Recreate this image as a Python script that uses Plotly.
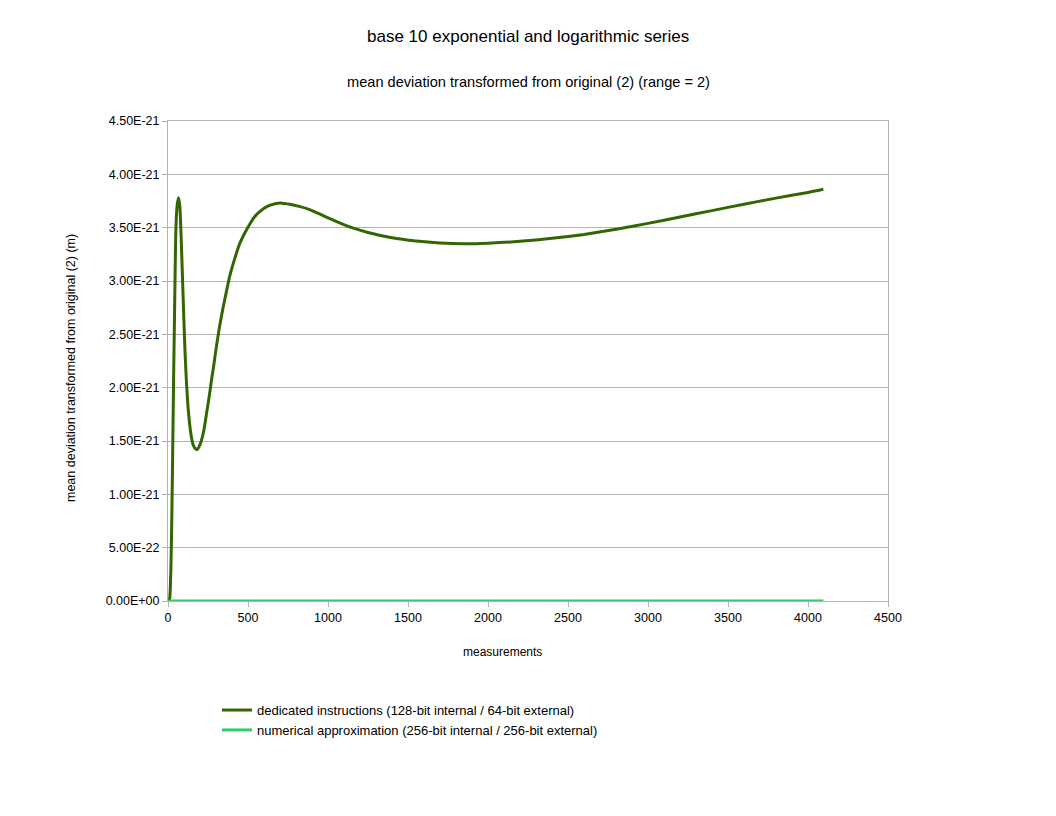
import plotly.graph_objects as go

# dedicated instructions series (measurement index, deviation in m)
x_dedicated = [0, 8, 12, 18, 22, 27, 31, 35, 40, 44, 48, 52, 58, 66, 74, 80, 88, 98,
               106, 115, 125, 135, 146, 156, 170, 183, 195, 208, 224, 240, 256, 271,
               287, 302, 322, 344, 365, 385, 415, 448, 480, 510, 540, 573, 620, 670,
               710, 760, 820, 885, 960, 1050, 1150, 1250, 1400, 1550, 1700, 1850,
               2000, 2200, 2430, 2600, 2810, 3000, 3200, 3400, 3600, 3800, 4000, 4096]
y_dedicated = [0, 0, 0.05e-21, 0.3e-21, 0.6e-21, 1.13e-21, 1.6e-21, 2.08e-21, 2.6e-21,
               3.03e-21, 3.4e-21, 3.6e-21, 3.72e-21, 3.78e-21, 3.7e-21, 3.5e-21,
               3.15e-21, 2.69e-21, 2.35e-21, 2.06e-21, 1.82e-21, 1.66e-21, 1.54e-21,
               1.47e-21, 1.43e-21, 1.42e-21, 1.45e-21, 1.5e-21, 1.6e-21, 1.75e-21,
               1.9e-21, 2.06e-21, 2.22e-21, 2.38e-21, 2.57e-21, 2.75e-21, 2.9e-21,
               3.04e-21, 3.2e-21, 3.35e-21, 3.45e-21, 3.53e-21, 3.6e-21, 3.65e-21,
               3.7e-21, 3.725e-21, 3.73e-21, 3.72e-21, 3.7e-21, 3.67e-21, 3.62e-21,
               3.56e-21, 3.5e-21, 3.455e-21, 3.405e-21, 3.375e-21, 3.357e-21, 3.35e-21,
               3.355e-21, 3.372e-21, 3.405e-21, 3.437e-21, 3.487e-21, 3.54e-21,
               3.6e-21, 3.66e-21, 3.72e-21, 3.777e-21, 3.83e-21, 3.86e-21]

# numerical approximation series (flat zero)
x_numerical = [1, 1024, 2048, 3072, 4096]
y_numerical = [0, 0, 0, 0, 0]

x_tick_vals = [0, 500, 1000, 1500, 2000, 2500, 3000, 3500, 4000, 4500]
y_tick_vals = [0, 0.5e-21, 1.0e-21, 1.5e-21, 2.0e-21, 2.5e-21, 3.0e-21, 3.5e-21, 4.0e-21, 4.5e-21]
y_tick_labels = ["0.00E+00", "5.00E-22", "1.00E-21", "1.50E-21", "2.00E-21",
                 "2.50E-21", "3.00E-21", "3.50E-21", "4.00E-21", "4.50E-21"]

FONT = "Liberation Sans, Arial, sans-serif"
GRID = "#b3b3b3"
LEFT, TOP, PLOT_W, PLOT_H = 160, 113, 720, 480


def px_x(p):
    # page pixel (screenshot) -> paper x
    return (p - LEFT - 8) / PLOT_W


def px_y(p):
    # page pixel (screenshot) -> paper y
    return (TOP + 7 + PLOT_H - p) / PLOT_H


fig = go.Figure()
fig.add_trace(go.Scatter(x=x_dedicated, y=y_dedicated, mode="lines",
                         name="dedicated instructions (128-bit internal / 64-bit external)",
                         line=dict(color="#336600", width=3, shape="spline", smoothing=0.5)))
fig.add_trace(go.Scatter(x=x_numerical, y=y_numerical, mode="lines",
                         name="numerical approximation (256-bit internal / 256-bit external)",
                         line=dict(color="#33cc66", width=3)))

fig.update_layout(
    width=1056, height=816,
    margin=dict(l=LEFT, r=1056 - LEFT - PLOT_W, t=TOP, b=816 - TOP - PLOT_H),
    paper_bgcolor="white", plot_bgcolor="white",
    font=dict(family=FONT, size=12, color="black"),
    showlegend=True,
    legend=dict(x=0.068, y=-0.196, xanchor="left", yanchor="top",
                font=dict(size=13), tracegroupgap=0, itemwidth=30),
    annotations=[
        dict(text="base 10 exponential and logarithmic series",
             x=0.5, y=px_y(36), yanchor="middle",
             xref="paper", yref="paper", showarrow=False, font=dict(size=17)),
        dict(text="mean deviation transformed from original (2) (range = 2)",
             x=0.5, y=px_y(81), yanchor="middle",
             xref="paper", yref="paper", showarrow=False, font=dict(size=14.6)),
        dict(text="measurements", x=px_x(502), y=px_y(651), xanchor="center", yanchor="middle",
             xref="paper", yref="paper", showarrow=False, font=dict(size=12)),
        dict(text="mean deviation transformed from original (2) (m)", textangle=-90,
             x=px_x(71), y=px_y(367), xanchor="center", yanchor="middle",
             xref="paper", yref="paper", showarrow=False, font=dict(size=12.5)),
    ],
)

fig.update_xaxes(range=[0, 4500], tickvals=x_tick_vals, showgrid=False,
                 showline=True, linecolor=GRID, linewidth=1, mirror=True,
                 ticks="outside", ticklen=5, tickcolor=GRID, zeroline=False,
                 tickfont=dict(size=12.5))
fig.update_yaxes(range=[0, 4.5e-21], tickvals=y_tick_vals, ticktext=y_tick_labels,
                 showgrid=True, gridcolor=GRID, gridwidth=1,
                 showline=True, linecolor=GRID, linewidth=1, mirror=True,
                 ticks="outside", ticklen=5, tickcolor=GRID, zeroline=False,
                 tickfont=dict(size=12.5))

fig.write_html("out.html")
